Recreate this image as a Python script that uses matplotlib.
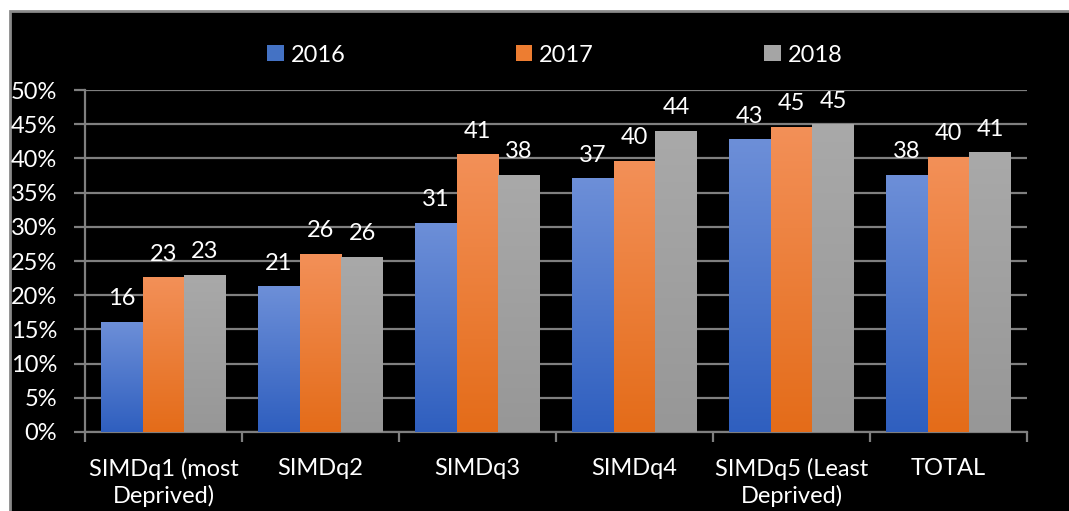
import numpy as np
import matplotlib
matplotlib.use("Agg")
import matplotlib.pyplot as plt
from matplotlib.patches import Rectangle, Patch
from matplotlib.ticker import FixedLocator, PercentFormatter

categories = ["SIMDq1 (most\nDeprived)", "SIMDq2", "SIMDq3", "SIMDq4",
              "SIMDq5 (Least\nDeprived)", "TOTAL"]
years = ["2016", "2017", "2018"]
v2016 = [16.1, 21.3, 30.6, 37.1, 42.8, 37.6]
v2017 = [22.6, 26.0, 40.6, 39.6, 44.6, 40.2]
v2018 = [23.0, 25.6, 37.6, 44.0, 45.0, 40.9]

# (top colour, bottom colour) for the gradient fill
grads = [("#6d8fd8", "#2f5fbf"), ("#f39058", "#e46c19"), ("#a9a9a9", "#979797")]
solid = ["#4472c4", "#ed7d31", "#a5a5a5"]

plt.rcParams["font.family"] = ["Lato", "DejaVu Sans"]
fig = plt.figure(figsize=(10.69, 5.11), dpi=100)
fig.patch.set_facecolor("white")
fig.add_artist(Rectangle((10 / 1069, -0.01), 1.0, 1 - 11 / 511 + 0.01,
                         transform=fig.transFigure, facecolor="black",
                         edgecolor="#8a8a8a", lw=2, zorder=0))

ax = fig.add_axes([85 / 1069, 1 - 432 / 511, (1027 - 85) / 1069, (432 - 90) / 511])
ax.set_facecolor("black")
ax.patch.set_alpha(0)

x = np.arange(len(categories))
w = 0.265
series = [v2016, v2017, v2018]
for i, vals in enumerate(series):
    bars = ax.bar(x + (i - 1) * w, vals, w, color=solid[i], zorder=2, lw=0)
    top = np.array(matplotlib.colors.to_rgba(grads[i][0]))
    bot = np.array(matplotlib.colors.to_rgba(grads[i][1]))
    t = np.linspace(0, 1, 128)[:, None]
    img = (bot * (1 - t) + top * t)[:, None, :]
    for b, v in zip(bars, vals):
        x0 = b.get_x()
        im = ax.imshow(img, extent=[x0, x0 + w, 0, v], origin="lower",
                       aspect="auto", zorder=3, interpolation="bilinear")
        im.set_clip_path(b)
        ax.annotate(f"{v:.0f}", (x0 + w / 2, v), xytext=(0, 12),
                    textcoords="offset points", ha="center", va="baseline",
                    color="white", fontsize=17)

ax.set_xlim(-0.5, len(categories) - 0.5)
ax.set_ylim(0, 50)
ax.yaxis.set_major_locator(FixedLocator(np.arange(0, 51, 5)))
ax.yaxis.set_major_formatter(PercentFormatter(decimals=0))
ax.grid(axis="y", color="#7f7f7f", lw=1.6, zorder=1)
ax.set_axisbelow(True)

ax.set_xticks(x)
ax.set_xticklabels(categories, color="white", fontsize=17, linespacing=1.25)
ax.set_xticks(np.arange(-0.5, len(categories)), minor=True)
ax.tick_params(axis="x", which="major", length=0, pad=19)
ax.tick_params(axis="x", which="minor", length=7, width=1.6, color="#7f7f7f")
ax.tick_params(axis="y", length=8, width=1.6, color="#7f7f7f", pad=12,
               labelcolor="white", labelsize=17)

for s in ["top", "right"]:
    ax.spines[s].set_visible(False)
for s in ["left", "bottom"]:
    ax.spines[s].set_color("#7f7f7f")
    ax.spines[s].set_linewidth(1.6)
ax.spines["left"].set_bounds(0, 50)

handles = [Patch(facecolor=c, edgecolor="none") for c in solid]
leg = fig.legend(handles, years, loc="center", bbox_to_anchor=(0.519, 1 - 55 / 511),
                 ncol=3, frameon=False, fontsize=17, handlelength=0.7,
                 handleheight=0.65, handletextpad=0.3, columnspacing=7.2)
for txt in leg.get_texts():
    txt.set_color("white")

fig.savefig("out.png", dpi=100, facecolor=fig.get_facecolor())
